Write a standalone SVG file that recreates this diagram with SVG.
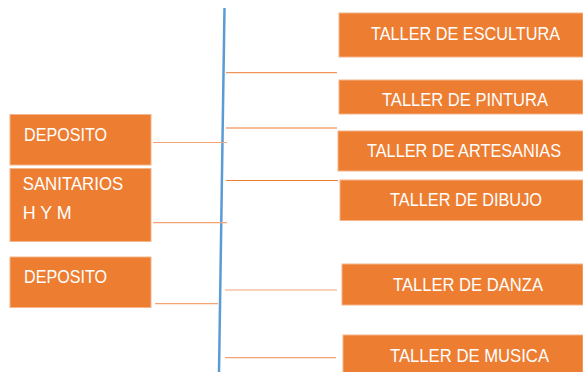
<svg xmlns="http://www.w3.org/2000/svg" width="583" height="372" viewBox="0 0 583 372">
<style>
.box{fill:#ED7D31;stroke:#F6B48A;stroke-width:1}
.t{fill:#FFFFFF;font-family:"Liberation Sans",Arial,sans-serif;font-size:18px}
.c{stroke:#ED7D31;stroke-width:1;fill:none}
.cl{stroke:#F4A472;stroke-width:1.2;fill:none}
</style>
<rect width="583" height="372" fill="#FFFFFF"/>
<g id="connectors">
<line x1="224.5" y1="8" x2="219" y2="372" stroke="#5B9BD5" stroke-width="2.5"/>
<line class="c" x1="226" y1="72.7" x2="337" y2="72.7"/>
<line class="c" x1="226" y1="128" x2="337" y2="128"/>
<line class="c" x1="226" y1="180.5" x2="338" y2="180.5"/>
<line class="cl" x1="225" y1="290" x2="337" y2="290"/>
<line class="cl" x1="225" y1="357.7" x2="336" y2="357.7"/>
<line class="cl" x1="153" y1="142.5" x2="227" y2="142.5"/>
<line class="cl" x1="153" y1="222.7" x2="227" y2="222.7"/>
<line class="cl" x1="155" y1="303.7" x2="218" y2="303.7"/>
</g>
<g id="escultura"><rect class="box" x="339" y="13" width="244" height="44"/><text class="t" x="371" y="40" textLength="189" lengthAdjust="spacingAndGlyphs">TALLER DE ESCULTURA</text></g>
<g id="pintura"><rect class="box" x="339" y="80" width="244" height="34"/><text class="t" x="382" y="106" textLength="166" lengthAdjust="spacingAndGlyphs">TALLER DE PINTURA</text></g>
<g id="artesanias"><rect class="box" x="338" y="131" width="245" height="40"/><text class="t" x="367" y="157" textLength="194" lengthAdjust="spacingAndGlyphs">TALLER DE ARTESANIAS</text></g>
<g id="dibujo"><rect class="box" x="340" y="180" width="243" height="40.5"/><text class="t" x="390" y="206" textLength="152" lengthAdjust="spacingAndGlyphs">TALLER DE DIBUJO</text></g>
<g id="danza"><rect class="box" x="342" y="264" width="241" height="41"/><text class="t" x="393" y="291" textLength="150" lengthAdjust="spacingAndGlyphs">TALLER DE DANZA</text></g>
<g id="musica"><rect class="box" x="343" y="335" width="240" height="40"/><text class="t" x="390" y="362" textLength="159" lengthAdjust="spacingAndGlyphs">TALLER DE MUSICA</text></g>
<g id="deposito1"><rect class="box" x="10" y="114.5" width="141" height="50.5"/><text class="t" x="24" y="141" textLength="83" lengthAdjust="spacingAndGlyphs">DEPOSITO</text></g>
<g id="sanitarios"><rect class="box" x="10" y="168.5" width="141" height="73"/><text class="t" x="22.7" y="189.5" textLength="100.5" lengthAdjust="spacingAndGlyphs">SANITARIOS</text><text class="t" x="22.7" y="218.5" textLength="49" lengthAdjust="spacingAndGlyphs">H Y M</text></g>
<g id="deposito2"><rect class="box" x="10" y="257" width="141" height="50.5"/><text class="t" x="24" y="283" textLength="83" lengthAdjust="spacingAndGlyphs">DEPOSITO</text></g>
</svg>
